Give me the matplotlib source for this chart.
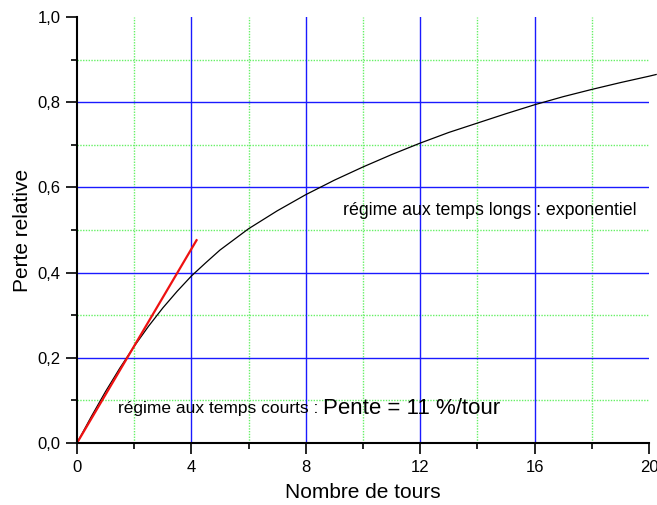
import numpy as np
import matplotlib
matplotlib.use("Agg")
import matplotlib.pyplot as plt

plt.rcParams['font.family'] = ['Liberation Sans', 'DejaVu Sans']

# black curve (number of turns, relative loss)
tours = [0, 0.5, 1.0, 1.5, 2.0, 2.5, 3.0, 3.5, 4.0, 4.5, 5.0, 6.0, 7.0, 8.0, 9.0,
         10.0, 11.0, 12.0, 13.0, 14.0, 15.0, 16.0, 17.0, 18.0, 19.0, 20.0, 20.25]
perte = [0, 0.062, 0.121, 0.176, 0.227, 0.274, 0.317, 0.356, 0.392, 0.423, 0.453,
         0.503, 0.545, 0.583, 0.617, 0.648, 0.677, 0.704, 0.729, 0.751, 0.773,
         0.794, 0.813, 0.830, 0.846, 0.861, 0.865]

# red tangent at the origin
tangente_x = [0, 4.18]
tangente_y = [0, 0.476]

xmaj = [0, 4, 8, 12, 16, 20]
xmin = [2, 6, 10, 14, 18]
ymaj = [0.0, 0.2, 0.4, 0.6, 0.8, 1.0]
ymin = [0.1, 0.3, 0.5, 0.7, 0.9]

fig = plt.figure(figsize=(6.57, 5.05), dpi=100)
ax = fig.add_axes([77 / 657, 62 / 505, 572 / 657, 426 / 505])
ax.set_xlim(0, 20)
ax.set_ylim(0, 1.0)

# grid (only inside the frame)
green = '#66f066'
blue = '#1a1aff'
for x in xmin:
    ax.axvline(x, color=green, lw=1.0, ls=(0, (1, 1)), zorder=1)
for y in ymin:
    ax.axhline(y, color=green, lw=1.0, ls=(0, (1, 1)), zorder=1)
for x in xmaj[1:-1]:
    ax.axvline(x, color=blue, lw=1.0, zorder=1)
for y in ymaj[1:-1]:
    ax.axhline(y, color=blue, lw=1.0, zorder=1)

ax.plot(tours, perte, color='black', lw=0.9, zorder=3, clip_on=False)
ax.plot(tangente_x, tangente_y, color='#ee1111', lw=1.6, zorder=4)

ax.text(9.3, 0.545, 'régime aux temps longs : exponentiel', fontsize=12.8,
        va='center', ha='left')
t1 = ax.text(1.45, 0.082, 'régime aux temps courts :', fontsize=12.5,
             va='center', ha='left')
ax.annotate('Pente = 11 %/tour', xy=(1, 0.5), xycoords=t1, xytext=(3, 0),
            textcoords='offset points', fontsize=16, va='center', ha='left')

ax.set_xticks(xmaj)
ax.set_xticks(xmin, minor=True)
ax.set_yticks(ymaj)
ax.set_yticks(ymin, minor=True)
ax.set_xticklabels([str(v) for v in xmaj])
ax.set_yticklabels([f'{v:.1f}'.replace('.', ',') for v in ymaj])

for s in ['top', 'right']:
    ax.spines[s].set_visible(False)
for s in ['left', 'bottom']:
    ax.spines[s].set_linewidth(1.5)
    ax.spines[s].set_zorder(5)

ax.tick_params(which='major', direction='out', length=8, width=1.2, labelsize=12, pad=4)
ax.tick_params(which='minor', direction='out', length=4, width=1.2)

ax.set_xlabel('Nombre de tours', fontsize=15, labelpad=6)
ax.set_ylabel('Perte relative', fontsize=15, labelpad=4)

fig.savefig('out.png', dpi=100)
